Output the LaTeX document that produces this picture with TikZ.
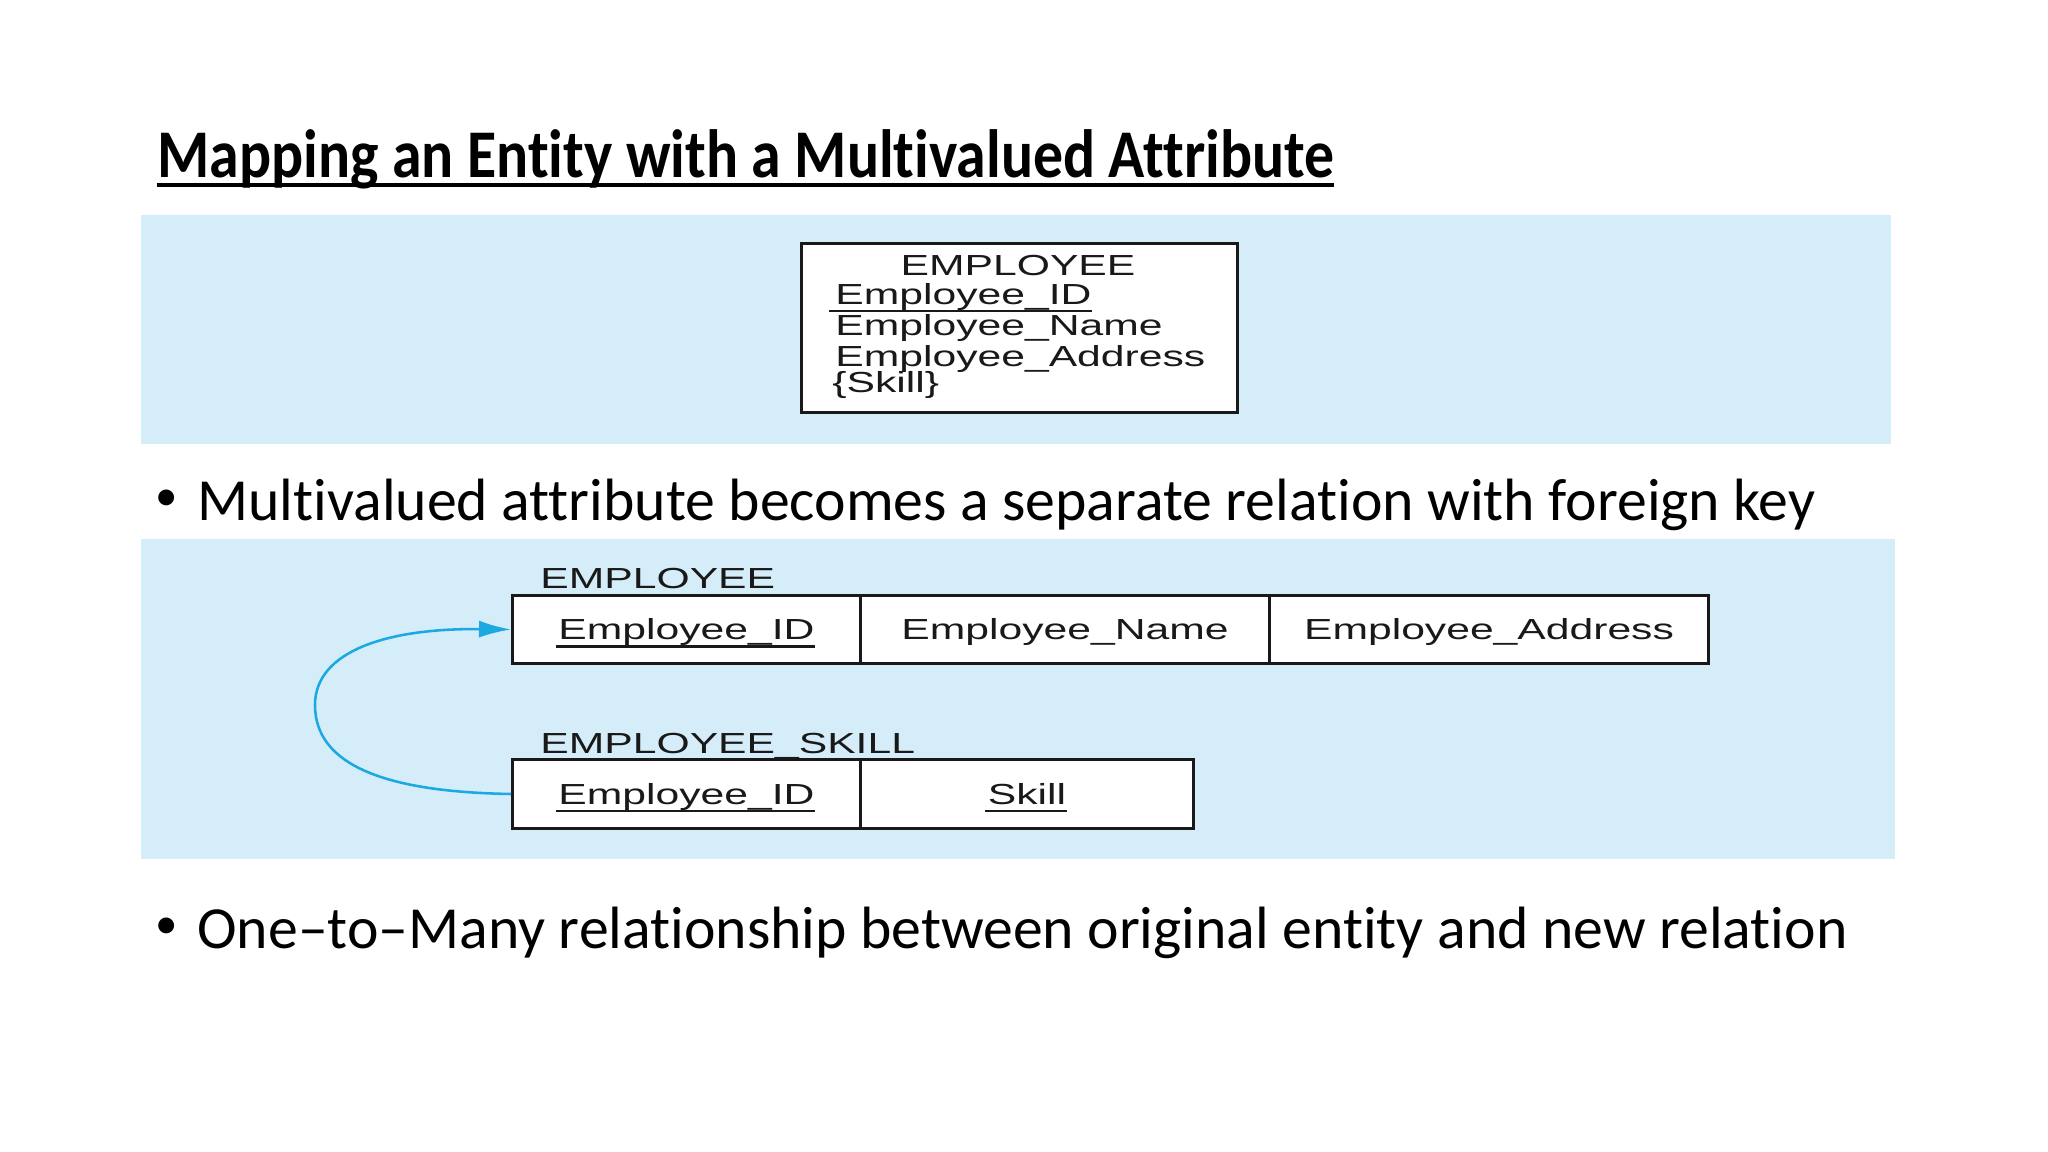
\documentclass[tikz,border=0pt]{standalone}
\usepackage{fontspec}
\setmainfont{Carlito}[Ligatures=NoCommon]
\newfontfamily\titlefont{Carlito}[FakeStretch=0.876, Ligatures=NoCommon]
\newfontfamily\diagfont[FakeStretch=1.47]{Liberation Sans}
\usetikzlibrary{calc,arrows.meta}
\definecolor{band}{RGB}{213,237,249}
\definecolor{fk}{RGB}{28,169,225}
\def\px{0.46875pt}
\tikzset{
  dtext/.style={font=\diagfont\fontsize{13.6}{16}\selectfont, inner sep=0pt, text=black!90},
  bodytext/.style={font=\fontsize{28}{34}\selectfont, inner sep=0pt, anchor=base west},
  bulletdot/.style={font=\fontsize{21}{24}\selectfont, inner sep=0pt, anchor=center},
  cellbox/.style={draw=black!90, line width=1.4pt, fill=white, anchor=north west, inner sep=0pt},
  uline/.style={line width=1pt, black!90},
  fkarrow/.style={draw=fk, line width=1.2pt, -{Latex[length=15pt,width=8pt]}}
}
\begin{document}
\begin{tikzpicture}[x=0.46875pt, y=-0.46875pt]
\useasboundingbox[fill=white] (0,0) rectangle (2048,1152);

% title
\node[font=\titlefont\bfseries\fontsize{32}{38}\selectfont, inner sep=0pt, anchor=base west] (title) at (157,178) {Mapping an Entity with a Multivalued Attribute};
\draw[line width=1.6pt] ($(title.base west)+(0,7)$) -- ($(title.base east)+(0,7)$);

% bands
\fill[band] (141,215) rectangle (1891,444);
\fill[band] (141,539) rectangle (1895,859);

% top entity box
\node[cellbox, minimum width=436*\px, minimum height=169*\px] (ent) at (800,242) {};
\node[dtext, anchor=base] (entname) at (1018,276) {EMPLOYEE};
\node[dtext, anchor=base west] (a1) at (835,305) {Employee\_ID};
\draw[uline] ($(a1.base west)+(-6,6)$) -- ($(a1.base east)+(0,6)$);
\node[dtext, anchor=base west] (a2) at (835,336) {Employee\_Name};
\node[dtext, anchor=base west] (a3) at (835,366) {Employee\_Address};
\node[dtext, anchor=base west] (a4) at (832,392) {\{Skill\}};

% bullet 1
\node[bulletdot] (d1) at (167,500) {\textbullet};
\node[bodytext] (b1) at (197,520) {Multivalued attribute becomes a separate relation with foreign key};

% EMPLOYEE relation
\node[dtext, anchor=base west] (rel1) at (540,588) {EMPLOYEE};
\node[cellbox, minimum width=348*\px, minimum height=68*\px] (e1) at (511,594) {};
\node[cellbox, minimum width=409*\px, minimum height=68*\px] (e2) at (859,594) {};
\node[cellbox, minimum width=439*\px, minimum height=68*\px] (e3) at (1268,594) {};
\node[dtext, anchor=base] (e1t) at ($(e1.center)+(0,10)$) {Employee\_ID};
\draw[uline] ($(e1t.base west)+(-2,7)$) -- ($(e1t.base east)+(0,7)$);
\node[dtext, anchor=base] (e2t) at ($(e2.center)+(0,10)$) {Employee\_Name};
\node[dtext, anchor=base] (e3t) at ($(e3.center)+(0,10)$) {Employee\_Address};

% EMPLOYEE_SKILL relation
\node[dtext, anchor=base west] (rel2) at (540,753) {EMPLOYEE\_SKILL};
\node[cellbox, minimum width=348*\px, minimum height=69*\px] (s1) at (511,758) {};
\node[cellbox, minimum width=333*\px, minimum height=69*\px] (s2) at (859,758) {};
\node[dtext, anchor=base] (s1t) at ($(s1.center)+(0,10)$) {Employee\_ID};
\draw[uline] ($(s1t.base west)+(-2,7)$) -- ($(s1t.base east)+(0,7)$);
\node[dtext, anchor=base] (s2t) at ($(s2.center)+(0,10)$) {Skill};
\draw[uline] ($(s2t.base west)+(-2,7)$) -- ($(s2t.base east)+(0,7)$);

% foreign key arrow
\draw[fkarrow] (s1.west) .. controls (385,792) and (315,765) .. (315,705)
  .. controls (315,650) and (390,628) .. (e1.west);

% bullet 2
\node[bulletdot] (d2) at (167,928) {\textbullet};
\node[bodytext] (b2) at (197,948) {One--to--Many relationship between original entity and new relation};
\end{tikzpicture}
\end{document}
